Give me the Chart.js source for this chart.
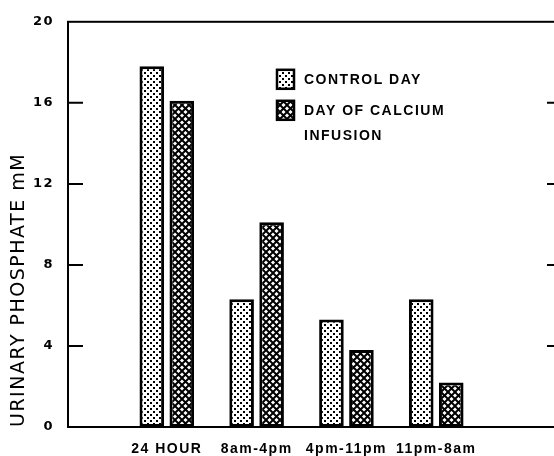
<!DOCTYPE html>
<html>
<head>
<meta charset="utf-8">
<script src="https://cdn.jsdelivr.net/npm/chart.js@4.4.1/dist/chart.umd.min.js"></script>
<style>
html, body { margin: 0; padding: 0; background: #fff; overflow: hidden; }
#wrap { width: 580px; height: 456px; }
</style>
</head>
<body>
<div id="wrap"><canvas id="chart" width="580" height="456"></canvas></div>
<script>
var categories = ['24 HOUR', '8am-4pm', '4pm-11pm', '11pm-8am'];
var controlDay = [17.8, 6.3, 5.3, 6.3];
var calciumDay = [16.1, 10.1, 3.8, 2.2];
var seriesNames = ['CONTROL DAY', 'DAY OF CALCIUM INFUSION'];
var legendLines = [['CONTROL DAY'], ['DAY OF CALCIUM', 'INFUSION']];
var yTicks = [0, 4, 8, 12, 16, 20];
var yTitle = 'URINARY PHOSPHATE mM';

function dotPattern() {
    var c = document.createElement('canvas');
    c.width = 6; c.height = 6;
    var g = c.getContext('2d');
    g.fillStyle = '#fff';
    g.fillRect(0, 0, 6, 6);
    g.fillStyle = '#000';
    g.fillRect(0, 0, 2, 2);
    g.fillRect(3, 3, 2, 2);
    return g.createPattern(c, 'repeat');
}

function hatchPattern() {
    var c = document.createElement('canvas');
    c.width = 7; c.height = 7;
    var g = c.getContext('2d');
    g.fillStyle = '#fff';
    g.fillRect(0, 0, 7, 7);
    g.strokeStyle = '#000';
    g.lineWidth = 2;
    g.beginPath();
    g.moveTo(-1, -1); g.lineTo(8, 8);
    g.moveTo(8, -1); g.lineTo(-1, 8);
    g.stroke();
    return g.createPattern(c, 'repeat');
}

var fills = [dotPattern(), hatchPattern()];

function toPoints(arr) {
    return arr.map(function(v, i) { return { x: i + 1, y: v }; });
}

// letter spacing for the lettered look of the original
var spacing = {
    id: 'spacing',
    beforeLayout: function(chart) { chart.ctx.letterSpacing = '1.5px'; },
    beforeDraw: function(chart) { chart.ctx.letterSpacing = '1.5px'; }
};

// box around the plot and the inward tick marks on both sides
var frame = {
    id: 'frame',
    afterDatasetsDraw: function(chart) {
        var a = chart.chartArea, ctx = chart.ctx, y = chart.scales.y;
        ctx.save();
        ctx.strokeStyle = '#000';
        ctx.lineWidth = 2;
        ctx.strokeRect(a.left, a.top, a.right - a.left, a.bottom - a.top);
        y.ticks.forEach(function(t) {
            if (t.value === y.min || t.value === y.max) return;
            var py = y.getPixelForValue(t.value);
            ctx.beginPath();
            ctx.moveTo(a.left, py); ctx.lineTo(a.left + 15, py);
            ctx.moveTo(a.right - 15, py); ctx.lineTo(a.right, py);
            ctx.stroke();
        });
        ctx.restore();
    }
};

// legend drawn inside the plot, like the figure
var boxLegend = {
    id: 'boxLegend',
    afterDraw: function(chart) {
        var a = chart.chartArea, ctx = chart.ctx;
        var x0 = a.left + 209, y0 = a.top + 48;
        ctx.save();
        ctx.letterSpacing = '1.5px';
        ctx.font = 'bold 14px "Liberation Sans"';
        ctx.textBaseline = 'middle';
        legendLines.forEach(function(lines, i) {
            var by = y0 + i * 31;
            ctx.fillStyle = fills[i];
            ctx.fillRect(x0, by, 17, 19);
            ctx.strokeStyle = '#000';
            ctx.lineWidth = 2.5;
            ctx.strokeRect(x0, by, 17, 19);
            ctx.fillStyle = '#000';
            lines.forEach(function(t, j) {
                ctx.fillText(t, x0 + 27, by + 10 + j * 25);
            });
        });
        ctx.restore();
    }
};

new Chart(document.getElementById('chart'), {
    type: 'bar',
    data: {
        datasets: [{
            label: seriesNames[0],
            data: toPoints(controlDay),
            backgroundColor: fills[0],
            borderColor: '#000',
            borderWidth: 3,
            borderSkipped: false
        }, {
            label: seriesNames[1],
            data: toPoints(calciumDay),
            backgroundColor: fills[1],
            borderColor: '#000',
            borderWidth: 3,
            borderSkipped: false
        }]
    },
    options: {
        responsive: false,
        animation: false,
        devicePixelRatio: 1,
        categoryPercentage: 0.668,
        barPercentage: 0.82,
        layout: { padding: { top: 20, right: 18, left: 0, bottom: 0 } },
        plugins: { legend: { display: false }, tooltip: { enabled: false } },
        scales: {
            x: {
                type: 'linear',
                offset: false,
                min: -0.1,
                max: 5.4,
                grid: { display: false, drawTicks: false },
                border: { display: false },
                afterBuildTicks: function(scale) {
                    scale.ticks = categories.map(function(c, i) { return { value: i + 1 }; });
                },
                afterFit: function(scale) { scale.height = 29; },
                ticks: {
                    autoSkip: false,
                    maxRotation: 0,
                    padding: 14,
                    color: '#000',
                    font: { family: 'Liberation Sans', size: 14, weight: 'bold' },
                    callback: function(v, i) { return categories[i]; }
                }
            },
            y: {
                min: 0,
                max: 20,
                grid: { display: false, drawTicks: false },
                border: { display: false },
                afterBuildTicks: function(scale) {
                    scale.ticks = yTicks.map(function(v) { return { value: v }; });
                },
                afterFit: function(scale) { scale.width = 68; },
                ticks: {
                    padding: 14,
                    color: '#000',
                    font: { family: 'DejaVu Sans', size: 13, weight: 'bold' }
                },
                title: {
                    display: true,
                    text: yTitle,
                    align: 'start',
                    color: '#000',
                    padding: { top: 8, bottom: 0 },
                    font: { family: 'DejaVu Sans', size: 19 }
                }
            }
        }
    },
    plugins: [spacing, frame, boxLegend]
});
</script>
</body>
</html>
